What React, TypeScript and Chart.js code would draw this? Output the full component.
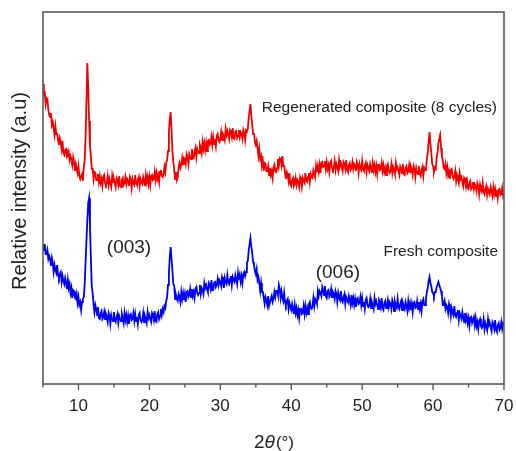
import React, { useEffect, useRef } from 'react';
import { Chart, registerables } from 'chart.js';

Chart.register(...registerables);

// 2θ sampling grid (degrees)
const TWO_THETA_START = 5;
const TWO_THETA_STEP = 0.125;

// Regenerated composite (8 cycles) — one row per degree, 5° … 69.875°, then 70°
const regenerated = [
  300, 290, 291, 280, 286, 285, 274, 269,
  267, 271, 259, 262, 256, 249, 258, 250,
  250, 244, 239, 246, 242, 235, 243, 231,
  229, 234, 235, 227, 228, 232, 224, 228,
  225, 219, 227, 222, 213, 220, 215, 211,
  218, 208, 205, 208, 210, 203, 217, 224,
  246, 281, 321, 298, 263, 238, 228, 215,
  215, 205, 212, 211, 204, 204, 210, 202,
  208, 201, 205, 198, 207, 209, 201, 199,
  201, 208, 199, 205, 201, 197, 208, 202,
  205, 201, 197, 206, 204, 199, 208, 198,
  197, 204, 206, 199, 201, 207, 200, 205,
  203, 198, 207, 204, 196, 205, 201, 199,
  209, 201, 199, 204, 207, 198, 205, 202,
  200, 207, 203, 198, 209, 202, 207, 200,
  207, 199, 208, 209, 204, 205, 212, 204,
  211, 205, 209, 202, 212, 214, 208, 207,
  210, 217, 212, 221, 224, 233, 252, 265,
  272, 254, 233, 222, 214, 205, 212, 204,
  207, 217, 221, 216, 219, 226, 220, 226,
  225, 220, 230, 227, 220, 230, 227, 225,
  235, 227, 226, 232, 236, 227, 235, 232,
  231, 239, 236, 231, 242, 235, 241, 234,
  241, 233, 243, 244, 239, 240, 247, 239,
  247, 240, 245, 238, 248, 250, 244, 242,
  245, 252, 244, 250, 248, 244, 255, 249,
  253, 249, 245, 254, 252, 247, 256, 246,
  245, 252, 253, 246, 248, 254, 247, 252,
  250, 245, 254, 251, 244, 254, 253, 255,
  266, 273, 280, 268, 259, 250, 251, 242,
  239, 243, 236, 228, 235, 225, 228, 219,
  223, 213, 221, 220, 213, 213, 218, 209,
  216, 209, 213, 206, 216, 219, 213, 212,
  216, 225, 218, 226, 225, 219, 228, 218,
  218, 211, 205, 212, 209, 203, 211, 200,
  198, 204, 206, 198, 200, 206, 199, 204,
  202, 197, 207, 204, 197, 206, 203, 201,
  211, 203, 202, 207, 211, 202, 210, 207,
  206, 214, 211, 207, 218, 212, 218, 212,
  219, 211, 221, 222, 217, 218, 223, 215,
  222, 215, 219, 212, 221, 223, 216, 214,
  216, 223, 214, 220, 217, 213, 224, 218,
  221, 217, 213, 222, 220, 215, 224, 214,
  212, 219, 221, 214, 216, 222, 215, 220,
  218, 213, 222, 219, 211, 220, 216, 214,
  223, 215, 213, 218, 221, 212, 219, 216,
  213, 220, 216, 211, 221, 214, 219, 212,
  218, 210, 219, 220, 214, 215, 221, 213,
  219, 212, 216, 209, 218, 220, 213, 211,
  213, 220, 211, 217, 214, 210, 221, 215,
  217, 213, 209, 218, 216, 211, 220, 210,
  209, 216, 218, 211, 213, 219, 212, 217,
  214, 209, 218, 215, 207, 216, 212, 210,
  218, 210, 208, 214, 217, 208, 216, 214,
  216, 225, 231, 243, 252, 240, 231, 220,
  218, 212, 216, 215, 226, 231, 241, 245,
  249, 236, 228, 223, 216, 215, 220, 211,
  217, 209, 213, 205, 214, 215, 208, 205,
  207, 213, 203, 209, 205, 201, 211, 205,
  207, 202, 198, 206, 204, 198, 207, 196,
  195, 201, 203, 195, 197, 202, 195, 200,
  198, 193, 201, 198, 190, 199, 194, 192,
  201, 193, 190, 195, 198, 189, 195, 192,
  190, 197, 193, 188, 197, 190, 195, 188,
  194, 186, 194, 195, 189, 190, 196, 188,
  191,
];

// Fresh composite — one row per degree, 5° … 69.875°, then 70°
const fresh = [
  134, 139, 139, 130, 130, 134, 125, 128,
  125, 118, 126, 121, 112, 119, 114, 111,
  119, 109, 106, 110, 112, 102, 108, 103,
  100, 106, 101, 95, 104, 96, 100, 91,
  96, 86, 94, 93, 86, 85, 90, 81,
  87, 79, 82, 74, 82, 85, 87, 99,
  121, 143, 164, 181, 186, 158, 126, 98,
  91, 80, 72, 79, 75, 69, 77, 66,
  65, 71, 73, 65, 67, 72, 65, 70,
  67, 62, 71, 68, 60, 69, 65, 63,
  72, 64, 62, 67, 70, 61, 68, 65,
  63, 70, 66, 61, 71, 64, 69, 62,
  68, 60, 69, 70, 64, 65, 71, 63,
  70, 63, 67, 60, 69, 71, 64, 62,
  64, 71, 62, 68, 65, 61, 72, 66,
  69, 65, 62, 71, 69, 64, 73, 63,
  62, 70, 72, 65, 68, 75, 69, 75,
  72, 78, 76, 83, 87, 99, 111, 127,
  137, 125, 113, 100, 98, 85, 89, 85,
  83, 90, 87, 82, 92, 85, 91, 84,
  90, 82, 92, 93, 87, 89, 95, 87,
  95, 88, 92, 86, 95, 97, 91, 89,
  91, 99, 90, 96, 94, 90, 101, 96,
  99, 95, 92, 101, 99, 95, 104, 94,
  94, 101, 103, 97, 99, 105, 99, 104,
  102, 98, 107, 104, 96, 106, 102, 100,
  109, 102, 100, 105, 108, 99, 107, 104,
  102, 109, 105, 100, 111, 104, 109, 102,
  108, 101, 110, 112, 108, 112, 121, 123,
  133, 140, 146, 137, 131, 122, 119, 113,
  110, 115, 104, 107, 101, 93, 101, 92,
  92, 86, 80, 87, 84, 79, 88, 78,
  78, 85, 88, 82, 85, 92, 87, 93,
  93, 89, 99, 95, 86, 93, 87, 83,
  91, 82, 79, 83, 85, 75, 81, 77,
  74, 80, 75, 70, 79, 71, 76, 69,
  74, 66, 75, 76, 70, 71, 78, 70,
  78, 71, 76, 70, 80, 82, 76, 75,
  78, 86, 78, 85, 83, 80, 93, 88,
  93, 91, 88, 97, 94, 89, 98, 88,
  86, 93, 94, 87, 89, 95, 87, 92,
  90, 85, 93, 90, 82, 91, 86, 84,
  93, 84, 82, 87, 90, 80, 87, 84,
  82, 88, 84, 79, 89, 81, 86, 79,
  85, 77, 85, 86, 80, 81, 87, 79,
  86, 78, 82, 75, 84, 86, 79, 77,
  78, 85, 76, 82, 79, 75, 86, 80,
  83, 79, 75, 84, 82, 77, 86, 76,
  74, 81, 83, 76, 78, 84, 77, 82,
  80, 75, 84, 81, 73, 82, 78, 76,
  85, 77, 75, 80, 83, 74, 81, 78,
  75, 82, 78, 73, 83, 76, 81, 74,
  80, 72, 81, 82, 76, 77, 83, 75,
  82, 75, 80, 73, 83, 85, 79, 79,
  85, 92, 96, 103, 107, 101, 98, 92,
  91, 88, 92, 92, 97, 99, 102, 99,
  96, 93, 88, 79, 79, 83, 75, 79,
  77, 71, 80, 76, 68, 76, 72, 69,
  78, 69, 67, 71, 74, 64, 71, 68,
  65, 72, 67, 62, 71, 64, 68, 61,
  66, 58, 66, 67, 61, 61, 67, 59,
  66, 58, 62, 55, 63, 65, 58, 56,
  58, 65, 55, 61, 58, 54, 65, 59,
  61, 57, 53, 62, 60, 55, 64, 54,
  52, 59, 61, 54, 56, 62, 55, 60,
  57,
];

const X_MIN = 5;
const X_MAX = 70;
const X_STEP = 5;
const X_LABEL_EVERY = 10;
const Y_MIN = 0;
const Y_MAX = 372;

// annotation texts with anchor positions in data coordinates (2θ, intensity)
const annotationTexts = ['Regenerated composite (8 cycles)', 'Fresh composite', '(003)', '(006)'];
const annotationX = [35.85, 53.0, 14.0, 43.45];
const annotationY = [276, 132, 136, 111];
const annotationSize = [15.5, 15.5, 19, 19];

const FONT = '"Liberation Sans", Arial, Helvetica, sans-serif';

export default function App() {
  const canvasRef = useRef<HTMLCanvasElement | null>(null);

  useEffect(() => {
    const canvas = canvasRef.current;
    if (!canvas) return;
    const toPoints = (arr: number[]) =>
      arr.map((y, i) => ({ x: TWO_THETA_START + i * TWO_THETA_STEP, y }));

    const decorPlugin = {
      id: 'decor',
      afterDraw(chart: any) {
        const ctx = chart.ctx as CanvasRenderingContext2D;
        const area = chart.chartArea;
        const xs = chart.scales.x;
        const ys = chart.scales.y;
        ctx.save();
        // frame
        ctx.strokeStyle = '#5a5a5a';
        ctx.lineWidth = 1.6;
        ctx.strokeRect(area.left, area.top, area.right - area.left, area.bottom - area.top);
        // tick marks
        ctx.lineWidth = 1.4;
        xs.ticks.forEach((t: any) => {
          const px = xs.getPixelForValue(t.value);
          const len = t.value % X_LABEL_EVERY === 0 ? 6 : 3.5;
          ctx.beginPath();
          ctx.moveTo(px, area.bottom);
          ctx.lineTo(px, area.bottom + len);
          ctx.stroke();
        });
        // annotations
        ctx.fillStyle = '#222';
        ctx.textBaseline = 'middle';
        ctx.textAlign = 'left';
        annotationTexts.forEach((txt, i) => {
          ctx.font = `${annotationSize[i]}px ${FONT}`;
          ctx.fillText(txt, xs.getPixelForValue(annotationX[i]), ys.getPixelForValue(annotationY[i]));
        });
        // y title
        ctx.save();
        ctx.translate(20, 191);
        ctx.rotate(-Math.PI / 2);
        ctx.font = `20px ${FONT}`;
        ctx.textAlign = 'center';
        ctx.textBaseline = 'middle';
        ctx.fillText('Relative intensity (a.u)', 0, 0);
        ctx.restore();
        // x title: 2θ(°)
        const parts = [
          { t: '2', f: `19px ${FONT}` },
          { t: 'θ', f: `italic 19px ${FONT}` },
          { t: '(°)', f: `17px ${FONT}` },
        ];
        let total = 0;
        const widths = parts.map((p) => {
          ctx.font = p.f;
          const w = ctx.measureText(p.t).width;
          total += w;
          return w;
        });
        let cx = (area.left + area.right) / 2 - total / 2;
        ctx.textAlign = 'left';
        ctx.textBaseline = 'alphabetic';
        parts.forEach((p, i) => {
          ctx.font = p.f;
          ctx.fillText(p.t, cx, 448);
          cx += widths[i] + (i === 1 ? 1 : 0);
        });
        ctx.restore();
      },
    };

    const chart = new Chart(canvas, {
      type: 'line',
      data: {
        datasets: [
          {
            label: 'Regenerated composite (8 cycles)',
            data: toPoints(regenerated),
            borderColor: '#f00000',
            borderWidth: 1.8,
            pointRadius: 0,
            tension: 0,
            fill: false,
          },
          {
            label: 'Fresh composite',
            data: toPoints(fresh),
            borderColor: '#0000f0',
            borderWidth: 1.8,
            pointRadius: 0,
            tension: 0,
            fill: false,
          },
        ],
      },
      options: {
        animation: false,
        responsive: true,
        maintainAspectRatio: false,
        layout: { padding: { left: 0, top: 12, right: 12, bottom: 0 } },
        plugins: { legend: { display: false }, tooltip: { enabled: false } },
        scales: {
          x: {
            type: 'linear',
            min: X_MIN,
            max: X_MAX,
            grid: { display: false, drawTicks: false },
            border: { display: false },
            ticks: {
              stepSize: X_STEP,
              autoSkip: false,
              maxRotation: 0,
              padding: 12,
              color: '#222',
              font: { family: FONT, size: 17 },
              callback: (v: any) => (Number(v) % X_LABEL_EVERY === 0 ? String(v) : ''),
            },
            afterFit: (s: any) => {
              s.height = 67;
              s.paddingLeft = 0;
              s.paddingRight = 0;
            },
          },
          y: {
            min: Y_MIN,
            max: Y_MAX,
            grid: { display: false, drawTicks: false },
            border: { display: false },
            ticks: { display: false },
            afterFit: (s: any) => {
              s.width = 43;
              s.paddingTop = 0;
              s.paddingBottom = 0;
            },
          },
        },
      },
      plugins: [decorPlugin],
    });
    return () => chart.destroy();
  }, []);

  return (
    <div style={{ position: 'fixed', left: 0, top: 0, width: 516, height: 451, background: '#fff' }}>
      <canvas ref={canvasRef} />
    </div>
  );
}
